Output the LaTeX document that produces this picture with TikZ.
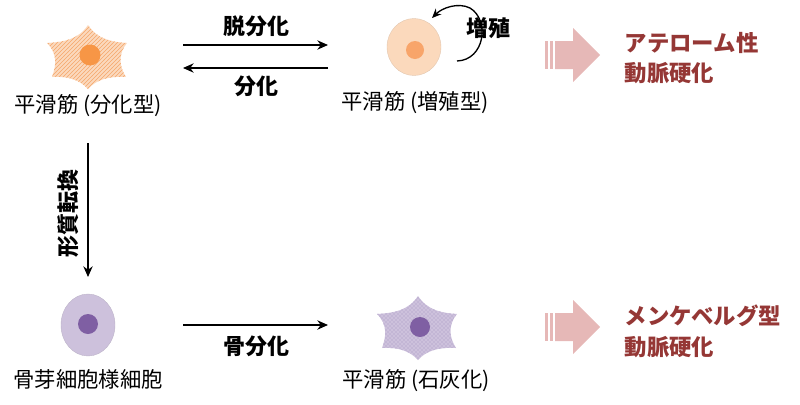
\documentclass[tikz,border=0pt]{standalone}
\usepackage{fontspec}
\setmainfont{Noto Sans CJK JP}
\usetikzlibrary{patterns,arrows.meta,shapes.geometric}
\definecolor{orgfill}{HTML}{FAC9A0}
\definecolor{orghatch}{HTML}{F5A66A}
\definecolor{orgnuc}{HTML}{F79646}
\definecolor{peach}{HTML}{FBD9BC}
\definecolor{peachnuc}{HTML}{F8A56A}
\definecolor{purfill}{HTML}{CDC1DC}
\definecolor{purnuc}{HTML}{7F5FA3}
\definecolor{purhatch}{HTML}{A593C0}
\definecolor{darkred}{HTML}{953735}
\definecolor{pinkarrow}{HTML}{E6B8B7}
\tikzset{
 lbl/.style={font=\fontsize{16}{18}\selectfont},
 blbl/.style={font=\bfseries\fontsize{16.5}{19}\selectfont},
 red/.style={font=\bfseries\fontsize{16.8}{23}\selectfont,text=darkred,align=left,anchor=west},
 arr/.style={-{Stealth[length=8pt,width=7pt]},line width=1pt},
}
\newcommand{\starcell}[3]{% center x,y, fill pattern colour
 \begin{scope}[shift={(#1,#2)}]
 \path[#3] (0,-31) .. controls (-10,-16) and (-25,-14) .. (-41,-13)
   .. controls (-30,-2) and (-32,10) .. (-36,21)
   .. controls (-20,20) and (-8,24) .. (0,33)
   .. controls (8,24) and (20,20) .. (38,21)
   .. controls (31,10) and (30,-2) .. (39,-13)
   .. controls (25,-14) and (10,-16) .. (0,-31) -- cycle;
 \end{scope}}
\begin{document}
\begin{tikzpicture}[x=0.75pt,y=-0.75pt]
\useasboundingbox (0,0) rectangle (800,404);
% cell 1
\starcell{88}{56}{fill=orgfill!70}
\starcell{88}{56}{pattern color=orghatch,pattern=north east lines}
\node[circle,fill=orgnuc,minimum size=21pt*0.75,inner sep=0] (n1) at (90,55) {};
\node[lbl] (l1) at (88,106) {平滑筋 (分化型)};
% cell 2
\node[ellipse,fill=peach,draw=peach!80!gray,line width=0.3pt,minimum width=54pt*0.75,minimum height=57pt*0.75,inner sep=0] (c2) at (414,47) {};
\node[circle,fill=peachnuc,minimum size=18pt*0.75,inner sep=0] (n2) at (415,50) {};
\node[lbl] (l2) at (415,103) {平滑筋 (増殖型)};
\coordinate (rs) at (457,61);
\coordinate (re) at (432,18);
\draw[-{Stealth[length=7pt,width=6pt]},line width=1pt] (rs) .. controls (485,60) and (490,20) .. (470,8) .. controls (458,2) and (442,8) .. (re);
\node[blbl] (zo) at (488,28) {増殖};
% arrows top
\coordinate (a1s) at (183,45); \coordinate (a1e) at (328,45);
\coordinate (a2s) at (328,68); \coordinate (a2e) at (183,68);
\draw[arr] (a1s) -- (a1e);
\draw[arr] (a2s) -- (a2e);
\node[blbl] (t1) at (256,26) {脱分化};
\node[blbl] (t2) at (256,86) {分化};
% vertical
\coordinate (vs) at (88,143); \coordinate (ve) at (88,277);
\draw[arr] (vs) -- (ve);
\node[blbl,rotate=90] (t3) at (68,213) {形質転換};
% cell 3
\node[ellipse,fill=purfill,draw=purfill!80!gray,line width=0.3pt,minimum width=54pt*0.75,minimum height=62pt*0.75,inner sep=0] (c3) at (88,325) {};
\node[circle,fill=purnuc,minimum size=20pt*0.75,inner sep=0] (n3) at (88,324) {};
\node[lbl] (l3) at (88,379) {骨芽細胞様細胞};
% bottom arrow
\coordinate (a3s) at (183,325); \coordinate (a3e) at (328,325);
\draw[arr] (a3s) -- (a3e);
\node[blbl] (t4) at (256,346) {骨分化};
% cell 4
\starcell{418}{327}{fill=purfill}
\starcell{418}{327}{pattern color=purhatch,pattern=crosshatch dots}
\node[circle,fill=purnuc,minimum size=20pt*0.75,inner sep=0] (n4) at (420,327) {};
\node[lbl] (l4) at (416,381) {平滑筋 (石灰化)};
% pink arrows
\foreach \y/\nm in {55/p1,327/p2}{
 \fill[pinkarrow] (545,\y-14) rectangle (547.5,\y+14);
 \fill[pinkarrow] (550,\y-14) rectangle (552.5,\y+14);
 \fill[pinkarrow] (555,\y-14) -- (573,\y-14) -- (573,\y-27) -- (600,\y) -- (573,\y+27) -- (573,\y+14) -- (555,\y+14) -- cycle;
}
\node[red] (r1) at (620,58) {アテローム性\\動脈硬化};
\node[red] (r2) at (620,331) {メンケベルグ型\\動脈硬化};
\end{tikzpicture}
\end{document}
